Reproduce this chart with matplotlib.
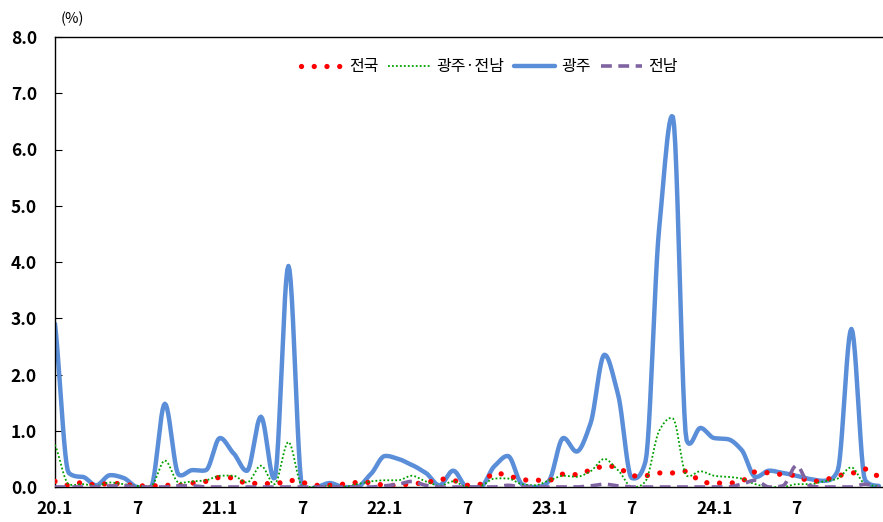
import numpy as np
import matplotlib
matplotlib.use("Agg")
import matplotlib.pyplot as plt

plt.rcParams['font.family'] = ['Noto Sans CJK KR', 'DejaVu Sans']

# monthly index, 2020.1 .. 2025.1
months = list(range(61))
tick_pos = [0, 6, 12, 18, 24, 30, 36, 42, 48, 54]
tick_labels = ["20.1", "7", "21.1", "7", "22.1", "7", "23.1", "7", "24.1", "7"]

nation = [0.10, 0.03, 0.08, 0.03, 0.07, 0.05, 0.02, 0.02, 0.03, 0.03,
          0.07, 0.10, 0.17, 0.16, 0.06, 0.07, 0.05, 0.12, 0.08, 0.03,
          0.03, 0.05, 0.08, 0.08, 0.03, 0.03, 0.06, 0.07, 0.14, 0.12,
          0.03, 0.05, 0.25, 0.20, 0.13, 0.12, 0.12, 0.23, 0.22, 0.30,
          0.37, 0.35, 0.20, 0.20, 0.25, 0.25, 0.28, 0.10, 0.07, 0.07,
          0.10, 0.27, 0.25, 0.22, 0.20, 0.10, 0.12, 0.20, 0.24, 0.32,
          0.18]
gj_jn = [0.75, 0.05, 0.05, 0.02, 0.08, 0.05, 0.02, 0.02, 0.47, 0.08,
         0.10, 0.12, 0.20, 0.20, 0.08, 0.38, 0.05, 0.80, 0.02, 0.00,
         0.02, 0.00, 0.05, 0.10, 0.12, 0.12, 0.20, 0.10, 0.02, 0.10,
         0.00, 0.02, 0.15, 0.15, 0.05, 0.03, 0.12, 0.20, 0.18, 0.28,
         0.50, 0.30, 0.00, 0.10, 1.00, 1.22, 0.20, 0.28, 0.20, 0.18,
         0.15, 0.05, 0.00, 0.00, 0.05, 0.05, 0.10, 0.15, 0.35, 0.05,
         0.02]
gwangju = [2.90, 0.25, 0.18, 0.03, 0.21, 0.16, 0.00, 0.00, 1.48, 0.22,
           0.30, 0.30, 0.87, 0.60, 0.29, 1.25, 0.16, 3.93, 0.00, 0.00,
           0.07, 0.00, 0.00, 0.23, 0.55, 0.50, 0.39, 0.25, 0.03, 0.29,
           0.00, 0.00, 0.37, 0.55, 0.05, 0.00, 0.12, 0.87, 0.63, 1.13,
           2.35, 1.65, 0.16, 0.45, 4.60, 6.58, 0.83, 1.05, 0.87, 0.85,
           0.66, 0.18, 0.29, 0.25, 0.20, 0.14, 0.11, 0.29, 2.81, 0.12,
           0.02]
jeonnam = [0.00, 0.00, 0.00, 0.00, 0.02, 0.02, 0.00, 0.00, 0.00, 0.02,
           0.02, 0.00, 0.00, 0.00, 0.00, 0.00, 0.00, 0.00, 0.00, 0.00,
           0.00, 0.00, 0.00, 0.00, 0.02, 0.05, 0.10, 0.03, 0.00, 0.00,
           0.00, 0.00, 0.00, 0.03, 0.00, 0.00, 0.00, 0.00, 0.00, 0.02,
           0.05, 0.02, 0.00, 0.00, 0.00, 0.00, 0.00, 0.00, 0.00, 0.00,
           0.05, 0.12, 0.00, 0.02, 0.38, 0.02, 0.00, 0.00, 0.00, 0.05,
           0.00]


def smooth(x, y, n=12, tension=0.8):
    # cubic hermite curve through the points, tangents limited so the
    # curve doesn't swing far past the data (close to excel's smoothing)
    x = np.asarray(x, float)
    y = np.asarray(y, float)
    d = np.diff(y)
    m = np.gradient(y) * tension
    for i in range(1, len(y) - 1):
        if d[i - 1] * d[i] <= 0:
            m[i] *= 0.35
    for i in range(len(d)):
        if d[i] == 0:
            continue
        a, b = m[i] / d[i], m[i + 1] / d[i]
        r = a * a + b * b
        if r > 9:
            k = 3 / np.sqrt(r)
            m[i], m[i + 1] = k * a * d[i], k * b * d[i]
    t = np.linspace(0, 1, n, endpoint=False)
    h00 = 2 * t ** 3 - 3 * t ** 2 + 1
    h10 = t ** 3 - 2 * t ** 2 + t
    h01 = -2 * t ** 3 + 3 * t ** 2
    h11 = t ** 3 - t ** 2
    xs, ys = [], []
    for i in range(len(x) - 1):
        w = x[i + 1] - x[i]
        xs.extend(x[i] + w * t)
        ys.extend(h00 * y[i] + h10 * w * m[i] + h01 * y[i + 1] + h11 * w * m[i + 1])
    xs.append(x[-1])
    ys.append(y[-1])
    return np.array(xs), np.array(ys)


fig = plt.figure(figsize=(8.83, 5.22), dpi=100)
ax = fig.add_axes([55 / 883, 35 / 522, 1 - 55 / 883, 450 / 522])

sx, sy = smooth(months, nation)
ax.plot(sx, sy, color="#FF0000", lw=3.8, linestyle=(0, (0.01, 2.4)),
        dash_capstyle="round", label="전국", zorder=3)
sx, sy = smooth(months, gj_jn)
ax.plot(sx, sy, color="#00A000", lw=1.3, linestyle=(0, (1, 1.2)),
        label="광주·전남", zorder=4)
sx, sy = smooth(months, gwangju)
ax.plot(sx, sy, color="#5B8ED8", lw=3.2, solid_capstyle="round",
        label="광주", zorder=2)
sx, sy = smooth(months, jeonnam)
ax.plot(sx, sy, color="#8064A2", lw=2.6, linestyle=(0, (3, 1.8)),
        label="전남", zorder=5)

ax.set_xlim(0, 60.3)
ax.set_ylim(0, 8)
ax.set_yticks(np.arange(0, 8.1, 1.0))
ax.set_yticklabels([f"{v:.1f}" for v in np.arange(0, 8.1, 1.0)],
                   fontsize=12.5, fontweight="bold")
ax.set_xticks(tick_pos)
ax.set_xticklabels(tick_labels, fontsize=12.5, fontweight="bold")
ax.tick_params(axis="y", direction="in", length=5, width=0.8, pad=13)
ax.tick_params(axis="x", length=0, pad=9)
ax.spines["right"].set_visible(False)
for s in ("left", "top", "bottom"):
    ax.spines[s].set_linewidth(1.0)

ax.text(0.4, 8.2, "(%)", fontsize=10.5, ha="left", va="bottom",
        transform=ax.transData, clip_on=False)

ax.legend(loc="upper center", bbox_to_anchor=(0.525, 0.985), ncol=4,
          frameon=False, fontsize=11.5, handlelength=2.6, columnspacing=0.6,
          handletextpad=0.4)

fig.savefig("out.png", dpi=100)
